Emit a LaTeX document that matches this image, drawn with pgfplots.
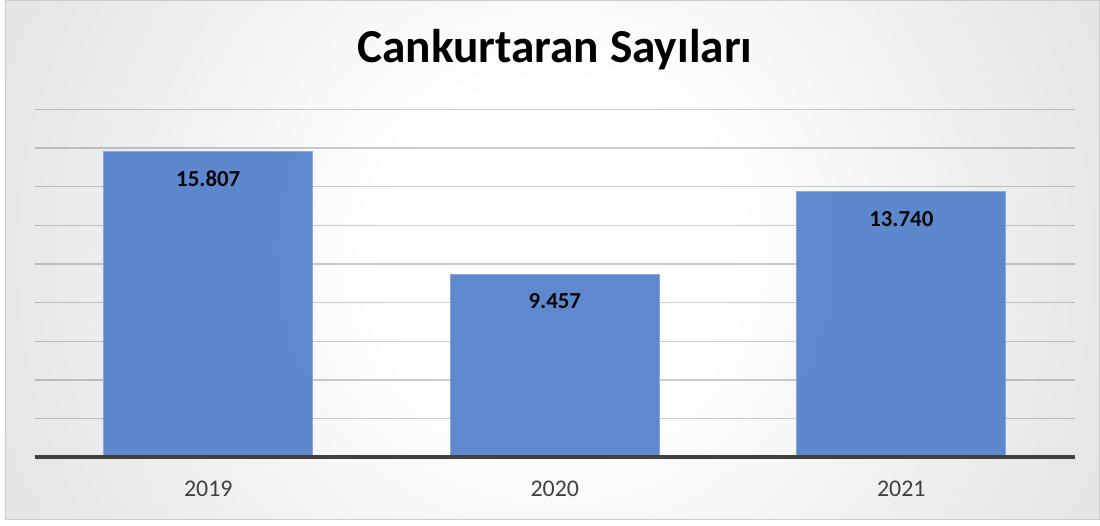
\documentclass[border=0pt]{standalone}
\usepackage{pgfplots}
\pgfplotsset{compat=1.18}
\usetikzlibrary{calc}
\usepackage{fontspec}
\setmainfont{Carlito}

\definecolor{barblue}{HTML}{5683CC}
\definecolor{baredge}{HTML}{8AA6DC}
\definecolor{axisgray}{HTML}{404040}
\definecolor{edgegray}{HTML}{C2C2C2}

% circular grey-to-white background like the Excel chart area
\pgfdeclareradialshading{chartbg}{\pgfpoint{0bp}{0bp}}{%
  color(0bp)=(white); color(7bp)=(white);
  color(20bp)=(white!92!black); color(32bp)=(white!86!black);
  color(44bp)=(white!80!black);
  color(49bp)=(edgegray); color(50bp)=(edgegray)}

\pgfdeclarelayer{background}
\pgfsetlayers{background,main}

\begin{document}
\begin{tikzpicture}[x=1bp,y=1bp]
\begin{axis}[
    name=ax,
    scale only axis,
    width=1040bp, height=348bp,
    xmin=-0.5, xmax=2.5,
    ymin=0, ymax=18000,
    ybar, bar width=209bp,
    axis line style={draw=none},
    major tick length=0pt,
    xtick={0,1,2},
    xticklabels={2019,2020,2021},
    xticklabel style={font=\fontsize{24}{27}\selectfont, text=axisgray, anchor=base, yshift=-39bp},
    ytick={0,2000,...,18000},
    yticklabels={},
    scaled y ticks=false,
    ymajorgrids,
    grid style={draw=black, draw opacity=0.2, line width=1.2bp},
    title={Cankurtaran Sayıları},
    title style={font=\fontsize{47.5}{52}\selectfont\bfseries, anchor=base, at={(0.5,1)}, yshift=41bp},
    nodes near coords={\pgfmathprintnumber[fixed,precision=0,1000 sep={.},assume math mode=true]{\pgfplotspointmeta}},
    every node near coord/.append style={font=\fontsize{23}{26}\selectfont\bfseries, text=black, anchor=base, yshift=-34.5bp},
]
\addplot[fill=barblue, fill opacity=0.95, draw=baredge, line width=1bp]
  coordinates {(0,15807) (1,9457) (2,13740)};
\end{axis}
\draw[axisgray, line width=3.8bp] (ax.south west) -- (ax.south east);

\begin{pgfonlayer}{background}
  \coordinate (O) at ($(ax.south west)+(-35,-68)$);
  \path[fill=white] (O) rectangle ($(O)+(1100,525)$);
  \begin{scope}
    \clip ($(O)+(5,6)$) rectangle ($(O)+(1100,525)$);
    \shade[shading=chartbg, overlay] ($(O)+(555,270)$) circle (620);
  \end{scope}
  \draw[white!80!black, line width=0.8bp] ($(O)+(5,6)$) rectangle ($(O)+(1100,525)$);
\end{pgfonlayer}
\end{tikzpicture}
\end{document}
